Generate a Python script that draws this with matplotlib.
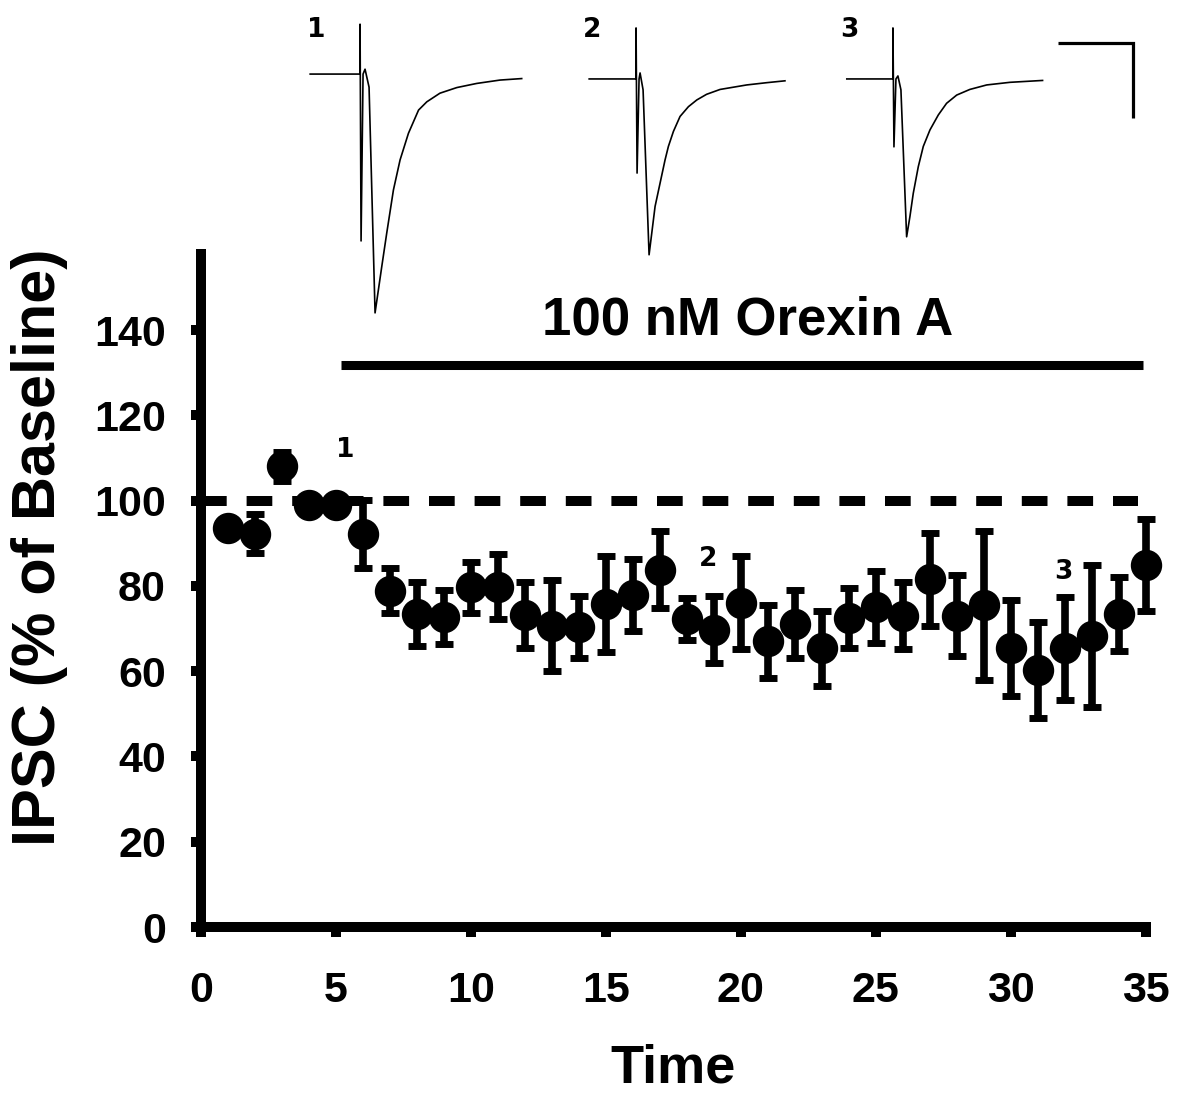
import numpy as np
import matplotlib
matplotlib.use("Agg")
import matplotlib.pyplot as plt

plt.rcParams['font.family'] = ['Liberation Sans', 'DejaVu Sans']
plt.rcParams['font.weight'] = 'bold'

#  ------------  data  ---------------------------------------
# IPSC amplitude (% of baseline), mean and sem for every minute
time = np.arange(1, 36)
ipsc_mean = [93.6, 92.2, 108.0, 98.9, 99.0, 92.2, 78.9, 73.4, 72.7, 79.7,
             79.8, 73.2, 70.7, 70.4, 75.8, 77.9, 83.8, 72.2, 69.7, 76.0,
             67.0, 71.0, 65.4, 72.4, 75.0, 73.0, 81.5, 73.0, 75.4, 65.4,
             60.3, 65.4, 68.2, 73.4, 84.9]
ipsc_sem = [1.5, 4.6, 3.5, 1.5, 1.5, 8.0, 5.2, 7.4, 6.4, 6.0,
            7.6, 7.7, 10.6, 7.2, 11.3, 8.5, 9.1, 5.0, 7.9, 10.9,
            8.5, 8.0, 8.8, 7.0, 8.5, 7.8, 10.9, 9.5, 17.5, 11.2,
            11.3, 12.1, 16.7, 8.6, 10.7]

# orexin application and baseline
drug_start, drug_end = 5.2, 34.9
drug_level = 131.8
baseline = 100
dash_end = 34.7

# where the example traces were taken
sample_labels = ['1', '2', '3']
sample_x = [5.35, 18.8, 31.95]
sample_y = [111.8, 86.4, 83.3]

# example traces, time in ms (0 = stimulus), current in pA
trace1_t = [-13.3, -1.3, 0, 0, 0.27, 0.8, 1.33, 2.4, 4.0, 5.78, 7.1, 8.9, 10.67,
            12.9, 15.6, 17.8, 21.3, 25.8, 31.1, 37.3, 43.1]
trace1_i = [0, 0, 0, 133, -445, 0, 13, -35, -637, -514, -425, -309, -229,
            -158, -96, -74, -51, -36, -25, -16, -12]
trace2_t = [-12.5, -1.07, 0, 0, 0.27, 0.8, 1.07, 1.87, 3.47, 4.19, 5.07, 6.4,
            7.73, 8.62, 9.96, 11.73, 13.96, 16.2, 18.8, 22.4, 29.5, 34.8, 39.7]
trace2_i = [0, 0, 0, 136, -251, 0, 16, -29, -469, -411, -340, -278,
            -216, -180, -140, -100, -74, -56, -41, -28, -16, -10, -5]
trace3_t = [-12.3, -1.33, 0, 0, 0.27, 0.8, 1.33, 2.13, 3.65, 4.53, 5.42, 6.76,
            8.09, 9.87, 12.1, 14.3, 17.0, 20.5, 25.0, 31.2, 39.9]
trace3_i = [0, 0, 0, 136, -181, 0, 8, -29, -421, -367, -305, -234,
            -180, -136, -96, -65, -43, -28, -16, -9, -4]
trace_offset_t = [0, 73.6, 142.1]
trace_offset_i = [0, -13, -13]

# scale bar 20 ms / 200 pA
bar_t = [186.1, 206.1]
bar_i = [82.7, -117.3]


def paint_traces(fig):
    # traces sit in their own transparent axes above the time course
    ax = fig.add_axes([0.2458, 0.6986, 0.7373, 0.2922])
    ax.set_xlim(-18.67, 213.33)
    ax.set_ylim(-682.7, 170.7)
    ax.axis('off')

    traces = [(trace1_t, trace1_i), (trace2_t, trace2_i), (trace3_t, trace3_i)]
    for k, (tt, ii) in enumerate(traces):
        ax.plot(np.array(tt) + trace_offset_t[k], np.array(ii) + trace_offset_i[k],
                color='black', lw=1.2, solid_joinstyle='round')
        ax.text(trace_offset_t[k] - 11.7, 117, sample_labels[k], fontsize=19,
                family='DejaVu Sans', fontweight='bold', ha='center', va='center')

    # scale bar
    ax.plot([bar_t[0], bar_t[1], bar_t[1]], [bar_i[0], bar_i[0], bar_i[1]],
            color='black', lw=2.3, solid_capstyle='butt', solid_joinstyle='miter')


def paint_time_course():
    fig = plt.figure(figsize=(11.8, 10.95), dpi=100)
    ax = fig.add_axes([0.1701, 0.1534, 0.8008, 0.6192])

    # baseline and drug bar
    ax.plot([0, dash_end], [baseline, baseline], color='black', lw=7.2,
            dashes=(2.57, 1.99), dash_capstyle='butt', zorder=1)
    ax.plot([drug_start, drug_end], [drug_level, drug_level], color='black',
            lw=6.5, solid_capstyle='butt')
    ax.text((drug_start + drug_end) / 2 + 0.2, 142.3, '100 nM Orexin A', fontsize=38,
            fontweight='bold', ha='center', va='center')

    # time course
    ax.errorbar(time, ipsc_mean, yerr=ipsc_sem, fmt='o', color='black', ms=21.6,
                elinewidth=5.5, capsize=6.5, capthick=5, zorder=3, clip_on=False)

    for lab, xx, yy in zip(sample_labels, sample_x, sample_y):
        ax.text(xx, yy, lab, fontsize=19, family='DejaVu Sans', fontweight='bold',
                ha='center', va='center')

    # set range and ticks
    ax.set_xlim(0, 35)
    ax.set_ylim(0, 159)
    ax.set_xticks(np.arange(0, 36, 5))
    ax.set_yticks(np.arange(0, 141, 20))
    ax.tick_params(axis='both', direction='out', length=7, width=7.2, labelsize=31)
    ax.tick_params(axis='x', pad=25)
    ax.tick_params(axis='y', pad=18)

    for side in ['top', 'right']:
        ax.spines[side].set_visible(False)
    ax.spines['left'].set_linewidth(7.2)
    ax.spines['left'].set_capstyle('butt')
    ax.spines['bottom'].set_linewidth(7.2)
    ax.spines['bottom'].set_capstyle('projecting')

    ax.set_xlabel('Time', fontsize=39, fontweight='bold')
    ax.set_ylabel('IPSC (% of Baseline)', fontsize=44, fontweight='bold')
    ax.xaxis.set_label_coords(0.5, -0.172)
    ax.yaxis.set_label_coords(-0.140, 0.56)

    paint_traces(fig)

    plt.savefig('out.png', dpi=100)


def main():
    paint_time_course()


if __name__ == "__main__":
    main()
